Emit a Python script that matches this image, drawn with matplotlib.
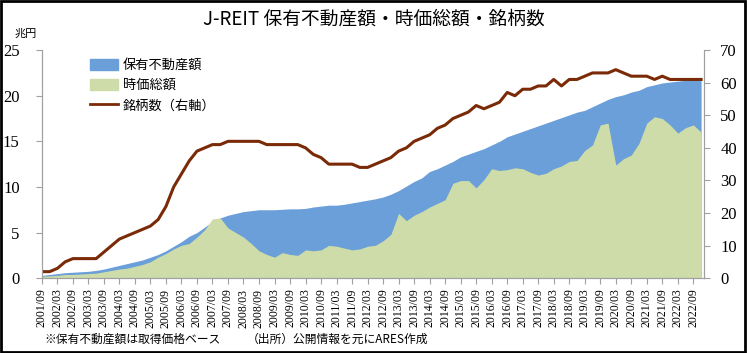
import matplotlib
matplotlib.use("Agg")
import matplotlib.pyplot as plt
from matplotlib.patches import Patch, Rectangle
from matplotlib.lines import Line2D

plt.rcParams['font.family'] = ['Noto Sans CJK JP', 'DejaVu Sans']

# quarterly points, months counted from 2001/09
months = list(range(0, 256, 3))

# 保有不動産額 (trillion yen)
holdings = [0.3, 0.4, 0.5, 0.6, 0.65, 0.7, 0.75, 0.85, 1.0, 1.2,
            1.4, 1.6, 1.8, 2.0, 2.3, 2.6, 3.0, 3.5, 4.0, 4.6,
            5.0, 5.6, 6.2, 6.6, 6.9, 7.1, 7.3, 7.4, 7.5, 7.5,
            7.5, 7.55, 7.6, 7.6, 7.65, 7.8, 7.9, 8.0, 8.0, 8.1,
            8.25, 8.4, 8.55, 8.7, 8.9, 9.2, 9.6, 10.1, 10.6, 11.0,
            11.7, 12.0, 12.4, 12.8, 13.3, 13.6, 13.9, 14.2, 14.6, 15.0,
            15.5, 15.8, 16.1, 16.4, 16.7, 17.0, 17.3, 17.6, 17.9, 18.2,
            18.4, 18.8, 19.2, 19.6, 19.9, 20.1, 20.4, 20.6, 21.0, 21.2,
            21.4, 21.5, 21.6, 21.7, 21.8, 21.8]

# 時価総額 (trillion yen)
market_cap = [0.2, 0.25, 0.3, 0.4, 0.4, 0.45, 0.5, 0.55, 0.7, 0.85,
              1.0, 1.1, 1.3, 1.5, 1.8, 2.3, 2.7, 3.2, 3.6, 3.8,
              4.5, 5.3, 6.5, 6.6, 5.5, 5.0, 4.5, 3.8, 3.0, 2.6,
              2.3, 2.8, 2.6, 2.5, 3.1, 3.0, 3.1, 3.6, 3.5, 3.3,
              3.1, 3.2, 3.5, 3.6, 4.1, 4.8, 7.1, 6.3, 6.9, 7.3,
              7.8, 8.2, 8.6, 10.4, 10.7, 10.7, 9.9, 10.8, 12.0, 11.8,
              11.9, 12.1, 12.0, 11.6, 11.3, 11.5, 12.0, 12.3, 12.8, 12.9,
              14.0, 14.6, 16.8, 17.0, 12.4, 13.1, 13.5, 14.8, 17.0, 17.7,
              17.5, 16.8, 15.9, 16.5, 16.8, 16.0]

# 銘柄数 (right axis)
num_reits = [2, 2, 3, 5, 6, 6, 6, 6, 8, 10,
             12, 13, 14, 15, 16, 18, 22, 28, 32, 36,
             39, 40, 41, 41, 42, 42, 42, 42, 42, 41,
             41, 41, 41, 41, 40, 38, 37, 35, 35, 35,
             35, 34, 34, 35, 36, 37, 39, 40, 42, 43,
             44, 46, 47, 49, 50, 51, 53, 52, 53, 54,
             57, 56, 58, 58, 59, 59, 61, 59, 61, 61,
             62, 63, 63, 63, 64, 63, 62, 62, 62, 61,
             62, 61, 61, 61, 61, 61]

tick_months = list(range(0, 253, 6))
tick_labels = []
for t in tick_months:
    y = 2001 + (8 + t) // 12
    mo = (8 + t) % 12 + 1
    tick_labels.append(f"{y}/{mo:02d}")

blue = '#6a9fd9'
green = '#cddca8'
brown = '#7a2a06'
serif = 'Liberation Serif'

fig = plt.figure(figsize=(7.47, 3.53), dpi=100)
ax = fig.add_axes([0.056, 0.212, 0.886, 0.646])
ax2 = ax.twinx()

ax.fill_between(months, holdings, 0, color=blue, lw=0)
ax.fill_between(months, market_cap, 0, color=green, lw=0)
ax2.plot(months, num_reits, color=brown, lw=2.2)

ax.set_xlim(0, 256)
ax.set_ylim(0, 25)
ax2.set_ylim(0, 70)
ax.set_yticks(range(0, 26, 5))
ax2.set_yticks(range(0, 71, 10))
ax.set_xticks(tick_months)
ax.set_xticklabels(tick_labels, rotation=90, family=serif, fontsize=8.5)
for lab in ax.get_yticklabels():
    lab.set_family(serif)
    lab.set_fontsize(12)
for lab in ax2.get_yticklabels():
    lab.set_family(serif)
    lab.set_fontsize(12)

for a in (ax, ax2):
    a.spines['top'].set_visible(False)
    for s in ('left', 'right', 'bottom'):
        a.spines[s].set_color('#a0a0a0')
    a.tick_params(colors='#a0a0a0', labelcolor='black', length=4)
ax.tick_params(axis='y', pad=12)
ax2.tick_params(axis='y', pad=8)

fig.text(0.5, 0.945, "J-REIT 保有不動産額・時価総額・銘柄数", ha='center', va='center',
         fontsize=13.5)
fig.text(0.02, 0.905, "兆円", fontsize=8, va='center')

handles = [Patch(color=blue), Patch(color=green), Line2D([], [], color=brown, lw=2)]
names = ["保有不動産額", "時価総額", "銘柄数（右軸）"]
ax.legend(handles, names, loc='upper left', bbox_to_anchor=(0.065, 0.985), frameon=False,
          fontsize=9.5, handlelength=2.1, handleheight=0.9, handletextpad=0.4,
          labelspacing=0.55, borderaxespad=0)

fig.text(0.06, 0.04, "※保有不動産額は取得価格ベース", fontsize=8.5, va='center')
fig.text(0.33, 0.04, "（出所）公開情報を元にARES作成", fontsize=8.5, va='center')

fig.add_artist(Rectangle((0.002, 0.003), 0.995, 0.993, transform=fig.transFigure,
                         fill=False, lw=2, color='black'))

fig.savefig("out.png", dpi=100)
